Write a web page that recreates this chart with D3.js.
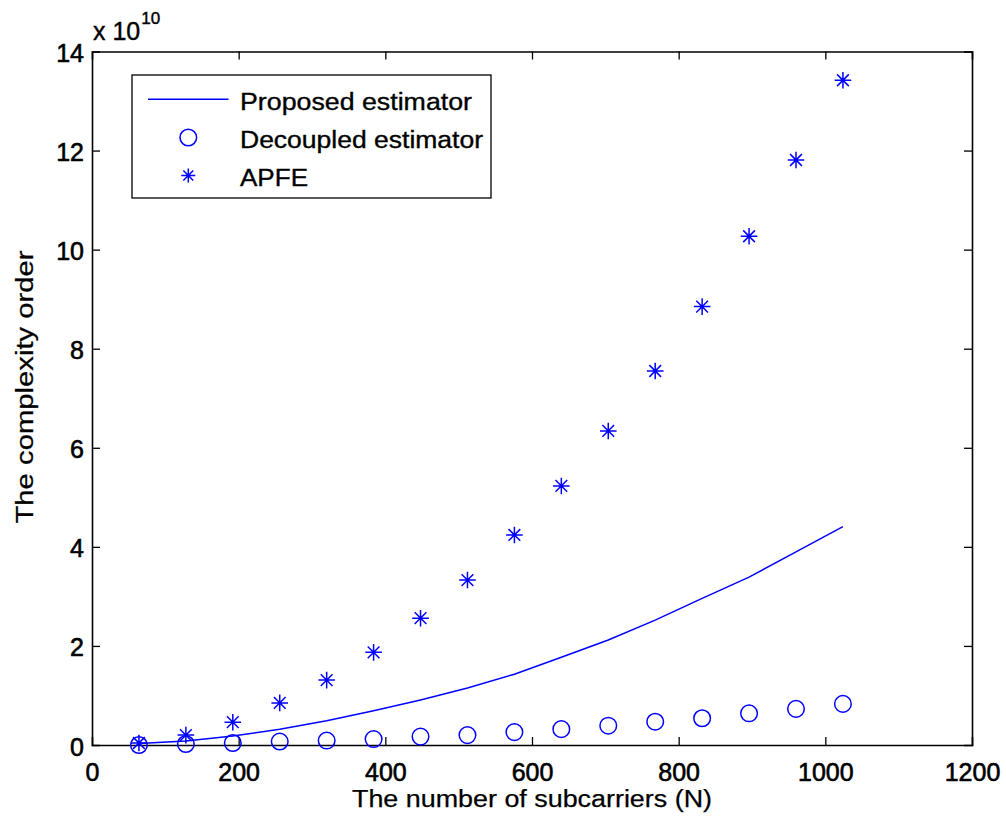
<!DOCTYPE html>
<html>
<head>
<meta charset="utf-8">
<script src="https://cdn.jsdelivr.net/npm/d3@7"></script>
<style>
  body { margin: 0; background: #fff; }
  svg { display: block; }
  text { font-family: "Liberation Sans", Arial, Helvetica, sans-serif; fill: #000; }
</style>
</head>
<body>
<svg id="chart" width="1006" height="817"></svg>
<script>
// ---- data (values in units of 1e10) ----
const subcarriers = [64, 128, 192, 256, 320, 384, 448, 512, 576, 640, 704, 768, 832, 896, 960, 1024];
const proposed   = [0.03, 0.08, 0.18, 0.32, 0.49, 0.69, 0.91, 1.15, 1.43, 1.77, 2.12, 2.52, 2.96, 3.39, 3.90, 4.41];
const decoupled  = [0.00, 0.02, 0.04, 0.07, 0.09, 0.12, 0.17, 0.20, 0.26, 0.32, 0.39, 0.47, 0.54, 0.64, 0.73, 0.83];
const apfe       = [0.04, 0.20, 0.46, 0.85, 1.31, 1.87, 2.56, 3.33, 4.24, 5.23, 6.34, 7.55, 8.85, 10.27, 11.81, 13.42];
const xTicks = [0, 200, 400, 600, 800, 1000, 1200];
const yTicks = [0, 2, 4, 6, 8, 10, 12, 14];
const seriesNames = ["Proposed estimator", "Decoupled estimator", "APFE"];
const xLabel = "The number of subcarriers (N)";
const yLabel = "The complexity order";

(function () {
const svg = d3.select("#chart");
const pl = 92, pr = 972, pt = 51.5, pb = 745;
const x = d3.scaleLinear().domain([0, 1200]).range([pl, pr]);
const y = d3.scaleLinear().domain([0, 14]).range([pb, pt]);
const blue = "#0000ff";

// axes with inward ticks
const tickLen = 8;
const axB = svg.append("g").attr("transform", `translate(0,${pb})`)
  .call(d3.axisBottom(x).tickValues(xTicks).tickSize(-tickLen).tickPadding(18).tickFormat(d3.format("d")));
const axT = svg.append("g").attr("transform", `translate(0,${pt})`)
  .call(d3.axisTop(x).tickValues(xTicks).tickSize(-tickLen).tickFormat(""));
const axL = svg.append("g").attr("transform", `translate(${pl},0)`)
  .call(d3.axisLeft(y).tickValues(yTicks).tickSize(-tickLen).tickPadding(8).tickFormat(d3.format("d")));
const axR = svg.append("g").attr("transform", `translate(${pr},0)`)
  .call(d3.axisRight(y).tickValues(yTicks).tickSize(-tickLen).tickFormat(""));
[axB, axT, axL, axR].forEach(g => {
  g.select(".domain").attr("stroke", "#000").attr("stroke-width", 1.6);
  g.selectAll(".tick line").attr("stroke", "#000").attr("stroke-width", 1.3);
  g.selectAll(".tick text").attr("font-size", 25).attr("fill", "#000")
    .attr("font-family", "'Liberation Sans', Arial, sans-serif")
    .attr("stroke", "#000").attr("stroke-width", 0.6);
});
axL.selectAll(".tick text").attr("dy", "0.4em");
axB.selectAll(".tick line").filter(d => d === 0 || d === 1200).attr("display", "none");
axT.selectAll(".tick line").filter(d => d === 0 || d === 1200).attr("display", "none");
axL.selectAll(".tick line").filter(d => d === 0 || d === 14).attr("display", "none");
axR.selectAll(".tick line").filter(d => d === 0 || d === 14).attr("display", "none");

// exponent label
const expo = svg.append("text").attr("x", 93).attr("y", 40).attr("font-size", 25)
  .attr("stroke", "#000").attr("stroke-width", 0.4);
expo.append("tspan").text("x 10");
expo.append("tspan").attr("dx", 1).attr("dy", -16).attr("font-size", 17).text("10");

// axis titles (glyphs stretched horizontally as in the original rendering)
svg.append("text").attr("x", (pl + pr) / 2).attr("y", 807).attr("text-anchor", "middle")
  .attr("font-size", 23).attr("textLength", 360).attr("lengthAdjust", "spacingAndGlyphs")
  .attr("stroke", "#000").attr("stroke-width", 0.25).text(xLabel);
svg.append("text").attr("transform", `translate(33,387) rotate(-90)`)
  .attr("text-anchor", "middle").attr("font-size", 23)
  .attr("textLength", 273).attr("lengthAdjust", "spacingAndGlyphs")
  .attr("stroke", "#000").attr("stroke-width", 0.25).text(yLabel);

// line series
const line = d3.line().x((d, i) => x(subcarriers[i])).y(d => y(d));
svg.append("path").datum(proposed).attr("d", line).attr("fill", "none")
  .attr("stroke", blue).attr("stroke-width", 1.5);

// circles
svg.append("g").selectAll("circle").data(decoupled).join("circle")
  .attr("cx", (d, i) => x(subcarriers[i])).attr("cy", d => y(d)).attr("r", 8.3)
  .attr("fill", "none").attr("stroke", blue).attr("stroke-width", 1.5);

// asterisk marker path
function starPath(r) {
  const d = r * Math.SQRT1_2;
  return `M${-r},0L${r},0M0,${-r}L0,${r}M${-d},${-d}L${d},${d}M${-d},${d}L${d},${-d}`;
}
svg.append("g").selectAll("path").data(apfe).join("path")
  .attr("transform", (d, i) => `translate(${x(subcarriers[i])},${y(d)})`)
  .attr("d", starPath(8.3)).attr("fill", "none").attr("stroke", blue).attr("stroke-width", 1.5);

// legend
const lg = svg.append("g");
lg.append("rect").attr("x", 132).attr("y", 75).attr("width", 359).attr("height", 123)
  .attr("fill", "#fff").attr("stroke", "#000").attr("stroke-width", 1.3);
const rows = [99.3, 137.5, 175.5];
const lens = [232, 243, 68];
lg.append("line").attr("x1", 148).attr("x2", 228.5).attr("y1", rows[0]).attr("y2", rows[0])
  .attr("stroke", blue).attr("stroke-width", 1.5);
lg.append("circle").attr("cx", 188.3).attr("cy", rows[1]).attr("r", 8.3)
  .attr("fill", "none").attr("stroke", blue).attr("stroke-width", 1.5);
lg.append("path").attr("transform", `translate(188.3,${rows[2]})`).attr("d", starPath(7))
  .attr("fill", "none").attr("stroke", blue).attr("stroke-width", 1.5);
seriesNames.forEach((n, i) => {
  lg.append("text").attr("x", 240).attr("y", rows[i] + 10.5)
    .attr("font-size", 23).attr("textLength", lens[i]).attr("lengthAdjust", "spacingAndGlyphs")
    .attr("stroke", "#000").attr("stroke-width", 0.35).text(n);
});
})();
</script>
</body>
</html>
